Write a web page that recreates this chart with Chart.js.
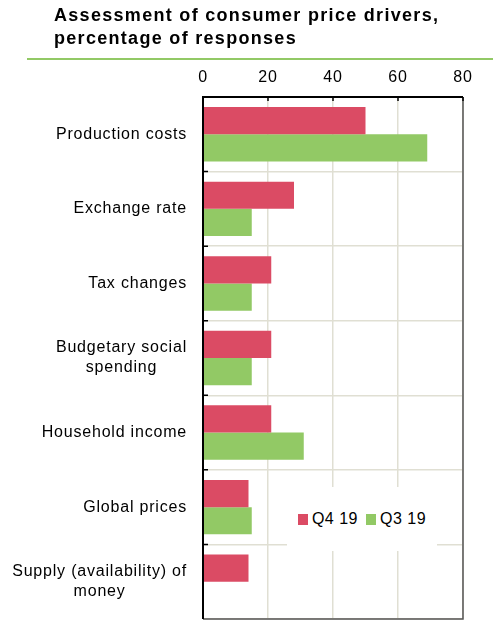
<!DOCTYPE html>
<html>
  <head>
    <meta charset="utf-8">
    <title>Consumer price drivers</title>
    <script src="https://cdn.jsdelivr.net/npm/chart.js@4/dist/chart.umd.min.js"></script>
    <style>
      html, body { margin: 0; padding: 0; background: #fff; }
      #wrap { position: relative; width: 493px; height: 623px; overflow: hidden; font-family: "Liberation Sans", Arial, sans-serif; }
      #title { position: absolute; left: 54px; top: 4px; font-weight: bold; font-size: 18px; line-height: 23px; letter-spacing: 1.3px; color: #000; }
      #rule { position: absolute; left: 27px; right: 0; top: 58px; height: 2px; background: #92c965; }
      #chart1 { position: absolute; left: 0; top: 0; }
      #legend { position: absolute; left: 287px; top: 487px; width: 150px; height: 64px; background: #fff;
                display: flex; align-items: center; justify-content: center; font-size: 16px; letter-spacing: 0.5px; color: #000; }
      #legend span.item { display: flex; align-items: center; margin: 0 4px; }
      #legend span.box { display: inline-block; width: 10px; height: 11px; margin-right: 4px; }
    </style>
  </head>
  <body>
    <div id="wrap">
      <canvas id="chart1" width="493" height="623"></canvas>
      <div id="title">Assessment of consumer price drivers,<br>percentage of responses</div>
      <div id="rule"></div>
      <div id="legend"></div>
    </div>
    <script>
      var categories = [
        'Production costs',
        'Exchange rate',
        'Tax changes',
        ['Budgetary social', 'spending'],
        'Household income',
        'Global prices',
        ['Supply (availability) of', 'money']
      ];
      var seriesNames = ['Q4 19', 'Q3 19'];
      var q4_19 = [50, 28, 21, 21, 21, 14, 14];
      var q3_19 = [69, 15, 15, 15, 31, 15, 0];
      var xTicks = [0, 20, 40, 60, 80];

      var RED = '#db4b64';
      var GREEN = '#92c965';
      var GRID = '#e0dfd3';
      var FONT = '16px "Liberation Sans", Arial, sans-serif';

      // short dark tick marks inside the plot, the frame, and the category labels
      var frame = {
        id: 'frame',
        beforeDraw: function(chart) { chart.ctx.letterSpacing = '0.8px'; },
        afterDatasetsDraw: function(chart) {
          var a = chart.chartArea, ctx = chart.ctx;
          var xs = chart.scales.x, ys = chart.scales.y;
          ctx.save();
          ctx.strokeStyle = '#555';
          ctx.lineWidth = 1.5;
          ctx.beginPath();
          ctx.moveTo(a.right, a.top); ctx.lineTo(a.right, a.bottom); ctx.lineTo(a.left, a.bottom);
          ctx.stroke();
          ctx.strokeStyle = '#000';
          ctx.lineWidth = 2;
          ctx.beginPath();
          ctx.moveTo(a.left, a.bottom); ctx.lineTo(a.left, a.top); ctx.lineTo(a.right, a.top);
          ctx.stroke();
          ctx.lineWidth = 1.5;
          ctx.beginPath();
          xTicks.forEach(function(v) {
            var px = xs.getPixelForValue(v);
            ctx.moveTo(px, a.top); ctx.lineTo(px, a.top + 4);
          });
          for (var i = 1; i < categories.length; i++) {
            var py = (ys.getPixelForValue(i - 1) + ys.getPixelForValue(i)) / 2;
            ctx.moveTo(a.left, py); ctx.lineTo(a.left + 5, py);
          }
          ctx.stroke();

          // category labels: block right-aligned, lines centred within it
          ctx.font = FONT;
          ctx.letterSpacing = '0.8px';
          ctx.fillStyle = '#000';
          ctx.textAlign = 'center';
          ctx.textBaseline = 'middle';
          var right = a.left - 16, lh = 20;
          categories.forEach(function(lab, i) {
            var lines = Array.isArray(lab) ? lab : [lab];
            var w = Math.max.apply(null, lines.map(function(t) { return ctx.measureText(t).width; }));
            var cx = right - w / 2;
            var cy = ys.getPixelForValue(i) - (lines.length - 1) * lh / 2;
            lines.forEach(function(t, k) { ctx.fillText(t, cx, cy + k * lh); });
          });
          ctx.restore();
        }
      };

      var chart = new Chart(document.getElementById('chart1'), {
        type: 'bar',
        data: {
          labels: categories,
          datasets: [
            { label: seriesNames[0], data: q4_19, backgroundColor: RED },
            { label: seriesNames[1], data: q3_19, backgroundColor: GREEN }
          ]
        },
        options: {
          indexAxis: 'y',
          responsive: false,
          animation: false,
          layout: { padding: { left: 0, right: 30, top: 62, bottom: 4 } },
          datasets: { bar: { categoryPercentage: 0.73, barPercentage: 1.0 } },
          plugins: { legend: { display: false }, tooltip: { enabled: false } },
          scales: {
            x: {
              position: 'top',
              min: 0, max: 80,
              afterBuildTicks: function(s) { s.ticks = xTicks.map(function(v) { return { value: v }; }); },
              afterFit: function(s) { s.height = 35; s.paddingLeft = 0; s.paddingRight = 0; },
              grid: { color: GRID, lineWidth: 1.5, drawTicks: false },
              border: { display: false },
              ticks: { color: '#000', padding: 10, font: { family: 'Liberation Sans', size: 16 } }
            },
            y: {
              afterFit: function(s) { s.width = 203; s.paddingTop = 0; s.paddingBottom = 0; },
              grid: { color: GRID, lineWidth: 1.5, drawTicks: false },
              border: { display: false },
              ticks: { display: false }
            }
          }
        },
        plugins: [frame]
      });

      // legend built from the chart's datasets
      var leg = document.getElementById('legend');
      chart.data.datasets.forEach(function(ds) {
        leg.insertAdjacentHTML('beforeend',
          '<span class="item"><span class="box" style="background:' + ds.backgroundColor + '"></span>' + ds.label + '</span>');
      });
    </script>
  </body>
</html>
